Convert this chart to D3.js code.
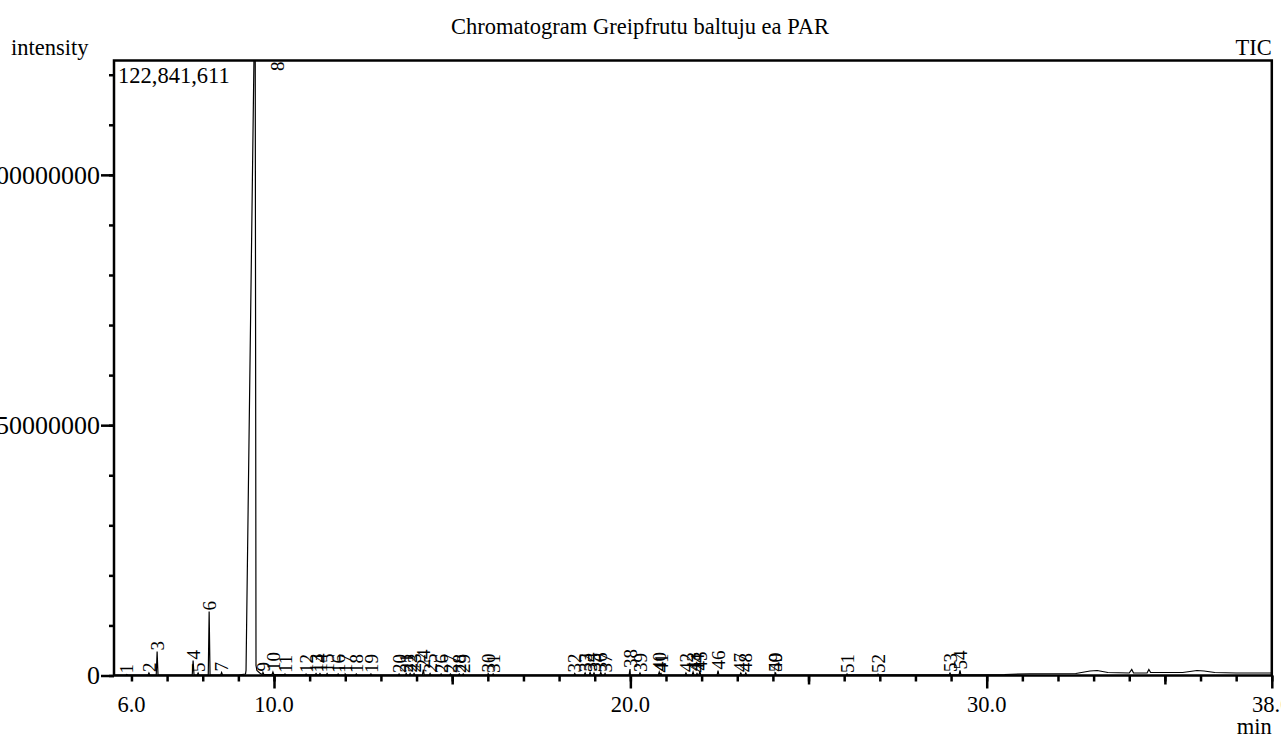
<!DOCTYPE html>
<html><head><meta charset="utf-8">
<script src="https://cdn.jsdelivr.net/npm/d3@7"></script>
<style>
body{margin:0;background:#fff}
svg{display:block}
text{font-family:"Liberation Serif","Times New Roman",Times,"DejaVu Serif",serif;fill:#000}
</style>
</head><body>
<svg id="chart" width="1281" height="738"></svg>
<script>
// ---------- data ----------
const chartTitle = "Chromatogram Greipfrutu baltuju ea PAR";
const yLabelText = "intensity";
const traceName = "TIC";
const xUnit = "min";
const maxIntensityText = "122,841,611";
const yMax = 122841611;
const xMin = 5.51, xMax = 38.0;

const xMinorTicks = [6,7,8,9,10,11,12,13,14,15,16,17,18,19,20,21,22,23,24,25,26,27,28,29,30,31,32,33,34,35,36,37,38];
const xMidTicks = [15,25,35];
const xMajorTicks = [10,20,30,38];
const xLabelValues = [6,10,20,30,38];
const xLabelText = ["6.0","10.0","20.0","30.0","38.0"];
const yMinorTicks = [0,10e6,20e6,30e6,40e6,50e6,60e6,70e6,80e6,90e6,100e6,110e6,120e6];
const yLabelValues = [0,50000000,100000000];

const peakLabel = [1,2,3,4,5,6,7,9,10,11,12,13,14,15,16,17,18,19,20,21,22,23,24,25,26,27,28,29,30,31,32,33,34,35,36,37,38,39,40,41,42,43,44,45,46,47,48,49,50,51,52,53,54];
const peakRT    = [5.87,6.49,6.72,7.73,7.87,8.18,8.53,9.69,9.97,10.31,10.90,11.18,11.29,11.49,11.80,12.00,12.31,12.72,13.51,13.71,13.82,13.93,14.19,14.38,14.69,14.95,15.20,15.31,16.01,16.15,18.44,18.73,18.87,18.98,19.17,19.29,19.99,20.27,20.81,20.86,21.56,21.76,21.87,21.95,22.46,23.10,23.24,24.06,24.08,26.08,26.95,28.97,29.25];
const peakHeight= [0.2e6,0.5e6,4.8e6,3.0e6,0.5e6,12.8e6,0.6e6,0.6e6,0.7e6,0.3e6,0.3e6,0.4e6,0.4e6,0.4e6,0.3e6,0.3e6,0.3e6,0.3e6,0.3e6,0.4e6,0.4e6,0.4e6,1.2e6,0.4e6,0.3e6,0.3e6,0.3e6,0.3e6,0.4e6,0.3e6,0.4e6,0.5e6,0.6e6,0.5e6,0.6e6,0.4e6,1.3e6,0.5e6,0.7e6,0.4e6,0.5e6,0.7e6,0.4e6,0.8e6,1.0e6,0.5e6,0.5e6,0.6e6,0.5e6,0.3e6,0.3e6,0.5e6,1.0e6];

// main (overloaded) peak 8
const mainPeakLabel = 8;
const mainPeakTime = [9.20, 9.215, 9.47, 9.495, 9.52, 9.60, 9.68];
const mainPeakInt  = [0.3e6, 1.0e6, 141e6, 2.0e6, 1.0e6, 0.5e6, 0.3e6];

// baseline of the trace
const baselineTime = [5.51, 7.0, 9.0, 9.8, 12.0, 16.0, 20.0, 24.0, 28.0, 29.5, 30.5, 31.2, 32.5, 32.9, 33.1, 33.4, 34.0, 34.07, 34.12, 34.5, 34.55, 34.6, 35.5, 35.9, 36.1, 36.4, 37.0, 38.0];
const baselineInt  = [0.1e6, 0.1e6, 0.1e6, 0.2e6, 0.1e6, 0.1e6, 0.1e6, 0.1e6, 0.12e6, 0.15e6, 0.2e6, 0.35e6, 0.4e6, 0.9e6, 1.0e6, 0.6e6, 0.5e6, 1.2e6, 0.5e6, 0.5e6, 1.2e6, 0.6e6, 0.6e6, 1.0e6, 0.9e6, 0.6e6, 0.5e6, 0.5e6];

// ---------- layout ----------
const FONT = '"Liberation Serif","Times New Roman",Times,"DejaVu Serif",serif';
const L = 114, R = 1271.8, T = 60.5, B = 675.5;
const svg = d3.select("#chart");
const x = d3.scaleLinear().domain([xMin, xMax]).range([L, R]);
const y = d3.scaleLinear().domain([0, yMax]).range([B, T]);
const baseAt = d3.scaleLinear().domain(baselineTime).range(baselineInt);

// build trace
let pts = baselineTime.map((t,i)=>[t, baselineInt[i]]).filter(p => p[0] < 9.18 || p[0] > 9.7);
mainPeakTime.forEach((t,i)=>pts.push([t, mainPeakInt[i]]));
peakRT.forEach((t,i)=>{
  pts.push([t-0.025, baseAt(t-0.025)]);
  pts.push([t, peakHeight[i]]);
  pts.push([t+0.025, baseAt(t+0.025)]);
});
pts.sort((a,b)=>a[0]-b[0]);

svg.append("defs").append("clipPath").attr("id","plotclip")
  .append("rect").attr("x",L).attr("y",T).attr("width",R-L).attr("height",B-T);

svg.append("path")
  .attr("clip-path","url(#plotclip)")
  .attr("d", d3.line().x(d=>x(d[0])).y(d=>y(d[1]))(pts))
  .attr("fill","none").attr("stroke","#000").attr("stroke-width",1.2);

// axes
function styleAxis(size){
  return g => {
    g.attr("font-family", null).attr("font-size", null);
    g.select(".domain").remove();
    g.selectAll(".tick line").attr("stroke","#000").attr("stroke-width",2.5);
    g.selectAll("text").style("font-size",size).style("font-family",FONT);
  };
}
svg.append("g").attr("transform",`translate(${L},0)`)
  .call(d3.axisLeft(y).tickValues(yMinorTicks).tickSize(5).tickFormat(""))
  .call(styleAxis("26px"));
svg.append("g").attr("transform",`translate(${L},0)`)
  .call(d3.axisLeft(y).tickValues(yLabelValues).tickSize(13).tickPadding(1).tickFormat(d3.format("d")))
  .call(styleAxis("26px"));

svg.append("g").attr("transform",`translate(0,${B})`)
  .call(d3.axisBottom(x).tickValues(xMinorTicks).tickSize(6).tickFormat(""))
  .call(styleAxis("22.5px"));
svg.append("g").attr("transform",`translate(0,${B})`)
  .call(d3.axisBottom(x).tickValues(xMidTicks).tickSize(9).tickFormat(""))
  .call(styleAxis("22.5px"));
svg.append("g").attr("transform",`translate(0,${B})`)
  .call(d3.axisBottom(x).tickValues(xMajorTicks).tickSize(13).tickFormat(""))
  .call(styleAxis("22.5px"));
svg.append("g").selectAll("text").data(xLabelValues).join("text")
  .attr("x", d=>x(d)).attr("y", 712).attr("text-anchor","middle")
  .style("font-size","22.5px").text((d,i)=>xLabelText[i]);

// frame
svg.append("rect").attr("x",L).attr("y",T).attr("width",R-L).attr("height",B-T)
  .attr("fill","none").attr("stroke","#000").attr("stroke-width",2.5);

// texts
svg.append("text").attr("x",640).attr("y",34).attr("text-anchor","middle").style("font-size","22.5px").text(chartTitle);
svg.append("text").attr("x",11).attr("y",55).style("font-size","22.5px").text(yLabelText);
svg.append("text").attr("x",R).attr("y",55).attr("text-anchor","end").style("font-size","22.5px").text(traceName);
svg.append("text").attr("x",R).attr("y",734).attr("text-anchor","end").style("font-size","22.5px").text(xUnit);
svg.append("text").attr("x",118).attr("y",83).style("font-size","22.5px").text(maxIntensityText);

// peak labels
svg.append("g").selectAll("text").data(peakRT).join("text")
  .attr("transform",(d,i)=>`translate(${x(d)},${y(peakHeight[i])-1}) rotate(-90)`)
  .attr("dy","0.35em").style("font-size","19px")
  .text((d,i)=>peakLabel[i]);
svg.append("text")
  .attr("transform",`translate(${x(mainPeakTime[2])+22},${T+10.5}) rotate(-90)`)
  .attr("dy","0.35em").style("font-size","19px").text(mainPeakLabel);
</script>
</body></html>
